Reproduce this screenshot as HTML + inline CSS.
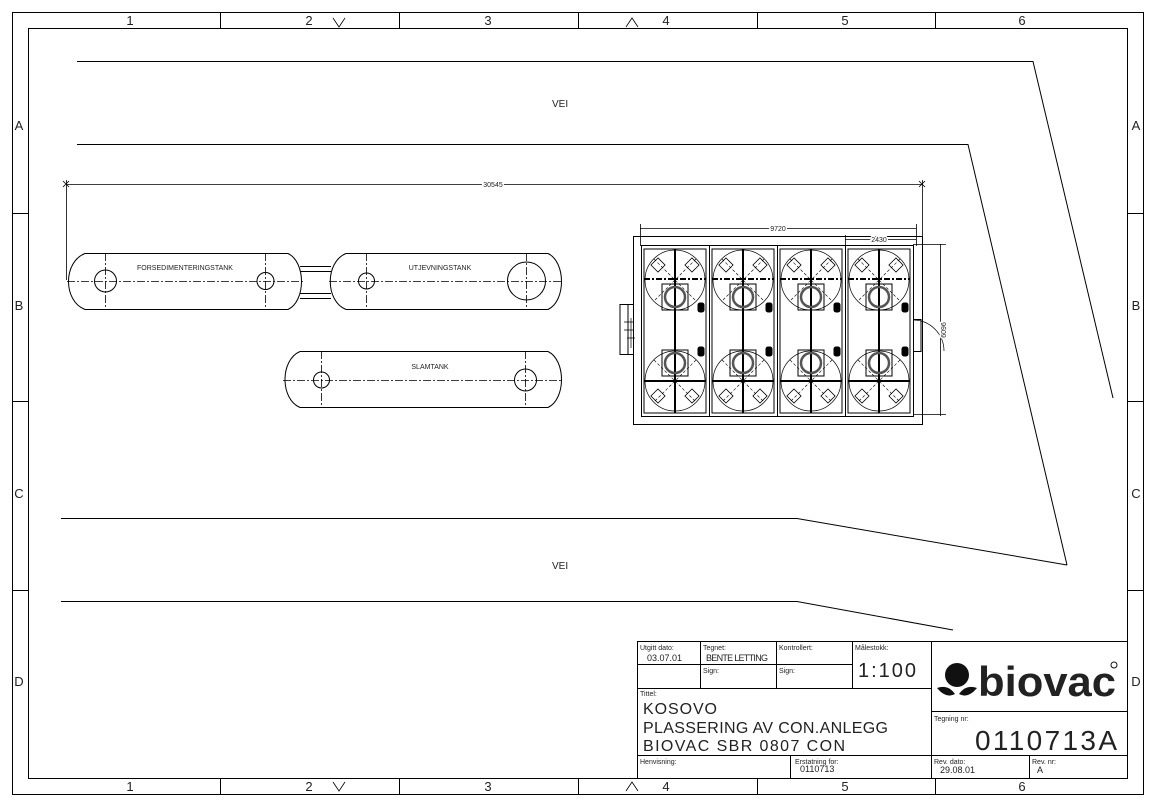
<!DOCTYPE html>
<html><head><style>
html,body{margin:0;padding:0;background:#fff;}
svg{display:block;}
text{font-family:"Liberation Sans",sans-serif;fill:#222;}
</style></head><body>
<svg width="1156" height="806" viewBox="0 0 1156 806" xmlns="http://www.w3.org/2000/svg">
<defs>
<g id="cell" fill="none" stroke="#000">
 <rect x="3" y="3" width="62" height="164" stroke-width="1"/>
 <circle cx="34" cy="34" r="30" stroke-width="0.7"/>
 <circle cx="34" cy="135" r="30" stroke-width="0.7"/>
 <line x1="34" y1="3" x2="34" y2="167" stroke-width="2"/>
 <line x1="3" y1="33" x2="65" y2="33" stroke-width="2" stroke-dasharray="6 2 2 2"/>
 <line x1="3" y1="135" x2="65" y2="135" stroke-width="2"/>
 <path d="M13 13 L55 55 M55 13 L13 55 M13 114 L55 156 M55 114 L13 156" stroke-width="0.6" stroke-dasharray="3 2"/>
 <rect x="12" y="14" width="10" height="10" transform="rotate(45 17 19)" stroke-width="0.8"/>
 <rect x="46" y="14" width="10" height="10" transform="rotate(45 51 19)" stroke-width="0.8"/>
 <rect x="12" y="145" width="10" height="10" transform="rotate(45 17 150)" stroke-width="0.8"/>
 <rect x="46" y="145" width="10" height="10" transform="rotate(45 51 150)" stroke-width="0.8"/>
 <rect x="21" y="38" width="26" height="26" stroke-width="1"/>
 <circle cx="34" cy="51" r="10" stroke="#555" stroke-width="2.5"/>
 <rect x="21" y="104" width="26" height="26" stroke-width="1"/>
 <circle cx="34" cy="117" r="10" stroke="#555" stroke-width="2.5"/>
 <rect x="57" y="57" width="6" height="9" rx="2" fill="#000"/>
 <rect x="57" y="101" width="6" height="9" rx="2" fill="#000"/>
</g>
</defs>
<g fill="none" stroke="#000" stroke-width="1">
 <rect x="12.5" y="12.5" width="1131" height="782"/>
 <rect x="28.5" y="28.5" width="1099" height="750"/>
 <path d="M220.5 12v16 M399.5 12v16 M578.5 12v16 M757.5 12v16 M935.5 12v16"/>
 <path d="M220.5 778v16 M399.5 778v16 M578.5 778v16 M757.5 778v16 M935.5 778v16"/>
 <path d="M12 213.5h16 M12 401.5h16 M12 590.5h16 M1128 213.5h16 M1128 401.5h16 M1128 590.5h16"/>
 <path d="M333 18 l6 9 l6 -9 M626 27 l6 -9 l6 9 M333 782 l6 9 l6 -9 M626 791 l6 -9 l6 9" stroke-width="0.8"/>
 <path d="M77 61.5 H1033 L1113 398"/>
 <path d="M77 144.5 H968 L1067 565"/>
 <path d="M61 518.5 H797 L1067 565"/>
 <path d="M61 601.5 H797 L953 630"/>
 <path d="M66 184.5 H922 M66.5 180 V280 M922.5 180 V236" stroke-width="0.8"/>
 <path d="M63 181 l6 6 M63 187 l6 -6 M919 181 l6 6 M919 187 l6 -6" stroke-width="0.8"/>
 <path d="M85 253.5 H288 C306 262 306 301 288 309.5 H85 C63 301 63 262 85 253.5 Z"/>
 <path d="M346 253.5 H548 C566 262 566 301 548 309.5 H346 C325 301 325 262 346 253.5 Z"/>
 <path d="M300 266.5 H331 M300 271.5 H331 M300 293.5 H331 M300 298.5 H331"/>
 <path d="M300 351.5 H548 C566 360 566 399 548 407.5 H300 C280 399 280 360 300 351.5 Z"/>
 <g stroke-dasharray="8 2 2 2" stroke-width="0.8">
  <path d="M67 281.5 H303 M329 281.5 H563 M283 380.5 H563"/>
  <path d="M105.5 253 V310 M265.5 253 V310 M366.5 253 V310 M526.5 253 V310 M321.5 351 V408 M525.5 351 V408"/>
 </g>
 <circle cx="105.5" cy="281" r="11"/>
 <circle cx="265.5" cy="281" r="8.5"/>
 <circle cx="366.5" cy="281" r="8"/>
 <circle cx="526.5" cy="281" r="19"/>
 <circle cx="321.5" cy="380" r="8"/>
 <circle cx="525.5" cy="380" r="11"/>
 <rect x="633.5" y="236.5" width="289" height="188"/>
 <rect x="641.5" y="245.5" width="272" height="171"/>
 <path d="M709.5 245 V416 M777.5 245 V416 M845.5 245 V416"/>
 <path d="M633 304.5 H620 V354.5 H633 M628 304 V355" />
 <path d="M624 322h10 M624 330h10 M627 338h8 M631 318v30" stroke-width="0.7"/>
 <path d="M913 319.5 H921 V351.5 H913" />
 <path d="M913 320 A31 31 0 0 1 944 351" stroke-width="0.7"/>
 <path d="M640 228.5 H916 M640.5 224 V246 M916.5 224 V246" stroke-width="0.8"/>
 <path d="M845 239.5 H916 M845.5 235 V246" stroke-width="0.8"/>
 <path d="M913 244.5 H946 M913 414.5 H946 M940.5 244 V416" stroke-width="0.8"/>
 <rect x="637.5" y="641.5" width="490" height="137"/>
 <path d="M637 664.5 H852 M637 688.5 H931 M931 711.5 H1128 M637 755.5 H1128"/>
 <path d="M700.5 641 V688 M776.5 641 V688 M852.5 641 V688 M931.5 641 V778 M790.5 755 V778 M1029.5 755 V778"/>
</g>
<g transform="translate(641,246)"><use href="#cell"/></g>
<g transform="translate(709,246)"><use href="#cell"/></g>
<g transform="translate(777,246)"><use href="#cell"/></g>
<g transform="translate(845,246)"><use href="#cell"/></g>
<g font-size="13" text-anchor="middle" fill="#444">
 <text x="130" y="25">1</text><text x="309" y="25">2</text><text x="488" y="25">3</text><text x="666" y="25">4</text><text x="845" y="25">5</text><text x="1022" y="25">6</text>
 <text x="130" y="791">1</text><text x="309" y="791">2</text><text x="488" y="791">3</text><text x="666" y="791">4</text><text x="845" y="791">5</text><text x="1022" y="791">6</text>
 <text x="19" y="130">A</text><text x="19" y="310">B</text><text x="19" y="498">C</text><text x="19" y="686">D</text>
 <text x="1136" y="130">A</text><text x="1136" y="310">B</text><text x="1136" y="498">C</text><text x="1136" y="686">D</text>
</g>
<g font-size="10">
 <text x="552" y="107">VEI</text>
 <text x="552" y="569">VEI</text>
</g>
<g font-size="7" text-anchor="middle">
 <text x="493" y="187" style="paint-order:stroke" stroke="#fff" stroke-width="3">30545</text>
 <text x="185" y="270">FORSEDIMENTERINGSTANK</text>
 <text x="440" y="270">UTJEVNINGSTANK</text>
 <text x="430" y="369">SLAMTANK</text>
 <text x="778" y="231" style="paint-order:stroke" stroke="#fff" stroke-width="3">9720</text>
 <text x="879" y="242" style="paint-order:stroke" stroke="#fff" stroke-width="3">2430</text>
 <text transform="translate(946,330) rotate(-90)" style="paint-order:stroke" stroke="#fff" stroke-width="3">6096</text>
</g>
<g font-size="7">
 <text x="640" y="650">Utgitt dato:</text>
 <text x="703" y="650">Tegnet:</text>
 <text x="779" y="650">Kontrollert:</text>
 <text x="855" y="650">Målestokk:</text>
 <text x="703" y="673">Sign:</text>
 <text x="779" y="673">Sign:</text>
 <text x="640" y="696">Tittel:</text>
 <text x="934" y="721">Tegning nr:</text>
 <text x="640" y="764">Henvisning:</text>
 <text x="795" y="764">Erstatning for:</text>
 <text x="934" y="764">Rev. dato:</text>
 <text x="1032" y="764">Rev. nr:</text>
</g>
<g font-size="9">
 <text x="647" y="661">03.07.01</text>
 <text x="706" y="661" textLength="62">BENTE LETTING</text>
 <text x="800" y="772">0110713</text>
 <text x="940" y="773">29.08.01</text>
 <text x="1037" y="773">A</text>
</g>
<g fill="#444">
 <text x="858" y="677" font-size="20" textLength="58">1:100</text>
 <text x="643" y="714" font-size="16" textLength="74">KOSOVO</text>
 <text x="643" y="733" font-size="16" textLength="245">PLASSERING AV CON.ANLEGG</text>
 <text x="643" y="751" font-size="16" textLength="202">BIOVAC SBR 0807 CON</text>
 <text x="975" y="750" font-size="28" textLength="142">0110713A</text>
</g>
<g fill="#111">
 <circle cx="957" cy="675" r="12"/>
 <path d="M937 688 Q948 684 955 694 Q946 699 937 688 Z"/>
 <path d="M977 688 Q966 684 959 694 Q968 699 977 688 Z"/>
 <text x="978" y="696" font-size="42" font-weight="bold" textLength="138" lengthAdjust="spacingAndGlyphs">biovac</text>
 <circle cx="1114" cy="665" r="3" fill="none" stroke="#111"/>
</g>
</svg>
</body></html>
